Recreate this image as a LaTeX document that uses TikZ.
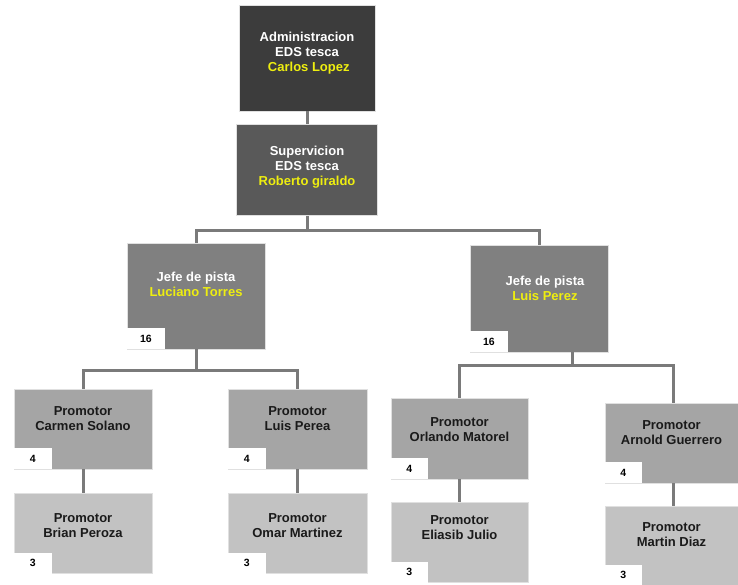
\documentclass[tikz,border=0pt]{standalone}
\usepackage{fontspec}
\setmainfont{Liberation Sans}
\usetikzlibrary{positioning}

\definecolor{lvlA}{HTML}{3C3C3C}
\definecolor{lvlB}{HTML}{595959}
\definecolor{lvlC}{HTML}{808080}
\definecolor{lvlD}{HTML}{A5A5A5}
\definecolor{lvlE}{HTML}{C2C2C2}
\definecolor{nameyellow}{HTML}{EEEE10}
\definecolor{linkgray}{HTML}{7A7A7A}
\definecolor{darktext}{HTML}{1A1A1A}

\begin{document}
\begin{tikzpicture}[
    x=1pt, y=-1pt,
    font=\bfseries\fontsize{13}{15}\selectfont,
    box/.style={rectangle, draw=black!12, line width=0.6pt, inner sep=0pt},
    admbox/.style={box, fill=lvlA, minimum width=136pt, minimum height=106pt},
    supbox/.style={box, fill=lvlB, minimum width=141pt, minimum height=91pt},
    jefebox/.style={box, fill=lvlC, minimum width=138pt, minimum height=106pt},
    promA/.style={box, fill=lvlD, minimum width=138pt, minimum height=80pt},
    promB/.style={box, fill=lvlE, minimum width=138pt, minimum height=80pt},
    lbl/.style={align=center, inner sep=0pt},
    count/.style={fill=white, anchor=south west, minimum width=38pt, minimum height=21pt, inner sep=0pt, font=\bfseries\fontsize{10.5}{12}\selectfont},
    link/.style={draw=linkgray, line width=3pt}
]
   \useasboundingbox (0,0) rectangle (738,584);

   % Boxes
   \node[admbox] (adm) at (307,58) {};
   \node[supbox, below=13pt of adm] (sup) {};
   \node[jefebox] (jefeL) at (196,296) {}; % left pista
   \node[jefebox, minimum height=107pt] (jefeR) at (539,298.5) {}; % right pista
   \node[promA] (carmen) at (83,429) {};
   \node[promB, below=24pt of carmen] (brian) {};
   \node[promA, minimum width=139pt] (perea) at (297.5,429) {};
   \node[promB, minimum width=139pt, below=24pt of perea] (omar) {};
   \node[promA, minimum width=137pt, minimum height=81pt] (orlando) at (459.5,438.5) {};
   \node[promB, minimum width=137pt, below=23pt of orlando] (eliasib) {};
   \node[promA, minimum width=133pt] (arnold) at (671.5,443) {};
   \node[promB, minimum width=133pt, minimum height=79pt, below=23pt of arnold] (martin) {};

   % Links
   \draw[link] (adm) -- (sup);
   \draw[link] (sup.south) -- ++(0,15) coordinate (busTop) -| (jefeL.north);
   \draw[link] (busTop) -| (jefeR.north);
   \draw[link] (jefeL.south) -- ++(0,21) coordinate (busL) -| (carmen.north);
   \draw[link] (busL) -| (perea.north);
   \draw[link] ([xshift=33pt]jefeR.south) -- ++(0,13) coordinate (busR) -| (orlando.north);
   \draw[link] (busR) -| ([xshift=1.5pt]arnold.north);
   \draw[link] (carmen) -- (brian);
   \draw[link] (perea) -- (omar);
   \draw[link] (orlando) -- (eliasib);
   \draw[link] ([xshift=1.5pt]arnold.south) -- ([xshift=1.5pt]martin.north);

   % Texts
   \node[lbl, text=white] (admT) at ([yshift=4.5pt]adm.center) {Administracion\\EDS tesca\\\textcolor{nameyellow}{\ Carlos Lopez}};
   \node[lbl, text=white] (supT) at ([yshift=3pt]sup.center) {Supervicion\\EDS tesca\\\textcolor{nameyellow}{Roberto giraldo}};
   \node[lbl, text=white] (jefeLT) at ([yshift=11.5pt]jefeL.center) {Jefe de pista\\\textcolor{nameyellow}{Luciano Torres}};
   \node[lbl, text=white] (jefeRT) at ([xshift=6pt,yshift=10pt]jefeR.center) {Jefe de pista\\\textcolor{nameyellow}{Luis Perez}};
   \node[lbl, text=darktext] (carmenT) at ([yshift=10pt]carmen.center) {Promotor\\Carmen Solano};
   \node[lbl, text=darktext] (brianT) at ([yshift=8.5pt]brian.center) {Promotor\\Brian Peroza};
   \node[lbl, text=darktext] (pereaT) at ([yshift=10pt]perea.center) {Promotor\\Luis Perea};
   \node[lbl, text=darktext] (omarT) at ([yshift=8.5pt]omar.center) {Promotor\\Omar Martinez};
   \node[lbl, text=darktext] (orlandoT) at ([yshift=9pt]orlando.center) {Promotor\\Orlando Matorel};
   \node[lbl, text=darktext] (eliasibT) at ([yshift=15pt]eliasib.center) {Promotor\\Eliasib Julio};
   \node[lbl, text=darktext] (arnoldT) at ([yshift=10.5pt]arnold.center) {Promotor\\Arnold Guerrero};
   \node[lbl, text=darktext] (martinT) at ([yshift=11.5pt]martin.center) {Promotor\\Martin Diaz};

   % Counts
   \node[count] (jefeLn) at (jefeL.south west) {16};
   \node[count] (jefeRn) at (jefeR.south west) {16};
   \node[count] (carmenN) at (carmen.south west) {4};
   \node[count] (brianN) at (brian.south west) {3};
   \node[count] (pereaN) at (perea.south west) {4};
   \node[count] (omarN) at (omar.south west) {3};
   \node[count, minimum width=37pt] (orlandoN) at (orlando.south west) {4};
   \node[count, minimum width=37pt] (eliasibN) at (eliasib.south west) {3};
   \node[count, minimum width=37pt] (arnoldN) at (arnold.south west) {4};
   \node[count, minimum width=37pt] (martinN) at (martin.south west) {3};
\end{tikzpicture}
\end{document}
